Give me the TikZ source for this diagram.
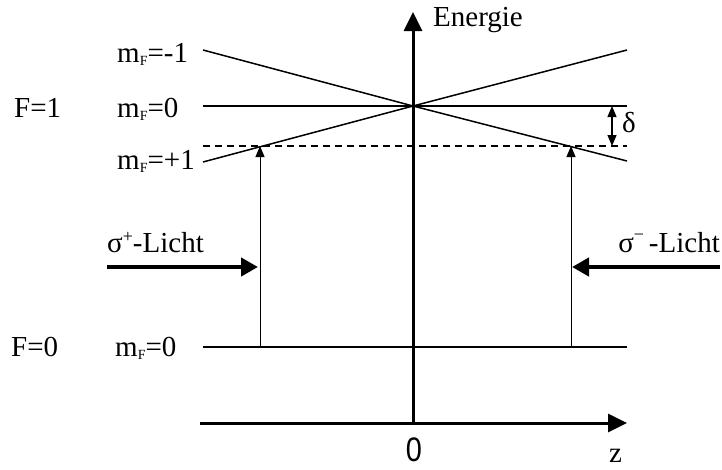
\documentclass[tikz,border=0pt]{standalone}
\usepackage{fontspec}
\setmainfont{Liberation Serif}
\newfontfamily\zerofont{Liberation Sans}
\usetikzlibrary{arrows.meta}
\newcommand{\mFsub}{m\raisebox{-3pt}{\fontsize{14}{14}\selectfont F}}
\begin{document}
\begin{tikzpicture}[x=1pt,y=-1pt,
  lbl/.style={inner sep=0pt,font=\fontsize{29}{29}\selectfont},
  axis/.style={line width=3pt,-{Triangle[length=19pt,width=18pt]}},
  level/.style={line width=1.5pt},
  light/.style={line width=4.5pt,-{Triangle[length=17pt,width=18pt]}},
  trans/.style={line width=1pt,-{Triangle[length=11pt,width=9pt]}},
  detun/.style={line width=1.2pt,{Triangle[length=11pt,width=9pt]}-{Triangle[length=11pt,width=9pt]}}]
\useasboundingbox (0,0) rectangle (722,469);
% coordinates
\coordinate (vb) at (413,423);
\coordinate (vt) at (413,12);
\coordinate (hl) at (200,423);
\coordinate (hr) at (627,423);
\coordinate (c) at (413,106);
\coordinate (m1l) at (203,50);
\coordinate (m1r) at (627,50);
\coordinate (p1l) at (203,162);
\coordinate (p1r) at (627,161);
\coordinate (m0l) at (203,106);
\coordinate (m0r) at (627,106);
\coordinate (dl) at (203,146);
\coordinate (dr) at (627,146);
\coordinate (gl) at (203,347);
\coordinate (gr) at (627,347);
\coordinate (t1b) at (260,347);
\coordinate (t1t) at (260,146);
\coordinate (t2b) at (571,347);
\coordinate (t2t) at (571,146);
\coordinate (sp1) at (107,267);
\coordinate (sp2) at (258,267);
\coordinate (sm1) at (720,267);
\coordinate (sm2) at (572,267);
\coordinate (d1) at (612,106);
\coordinate (d2) at (612,146);
% axes
\draw[axis] (vb) -- (vt);
\draw[axis] (hl) -- (hr);
% levels
\draw[level] (m1l) -- (c) -- (m1r);
\draw[level] (p1l) -- (c) -- (p1r);
\draw[level] (m0l) -- (m0r);
\draw[level,dash pattern=on 7pt off 5pt] (dl) -- (dr);
\draw[level] (gl) -- (gr);
% transitions
\draw[trans] (t1b) -- (t1t);
\draw[trans] (t2b) -- (t2t);
\draw[detun] (d1) -- (d2);
% light
\draw[light] (sp1) -- (sp2);
\draw[light] (sm1) -- (sm2);
% labels
\node[lbl,anchor=base west] (energie) at (433,26) {Energie};
\node[lbl,anchor=base west] (f1) at (14,117) {F=1};
\node[lbl,anchor=base west] (f0) at (11,356) {F=0};
\node[lbl,anchor=base west] (lm1) at (117,62) {\mFsub=-1};
\node[lbl,anchor=base west] (lm0) at (117,117) {\mFsub=0};
\node[lbl,anchor=base west] (lp1) at (117,169) {\mFsub=+1};
\node[lbl,anchor=base west] (lg0) at (115,356) {\mFsub=0};
\node[lbl,anchor=base west] (sigp) at (107,252) {σ\raisebox{10pt}{\fontsize{18}{18}\selectfont +}-Licht};
\node[lbl,anchor=base east] (sigm) at (720,252) {σ\raisebox{12pt}{\fontsize{18}{18}\selectfont −}\,-Licht};
\node[lbl,anchor=base west] (delta) at (622,132) {δ};
\node[inner sep=0pt,font=\zerofont\fontsize{34}{34}\selectfont,xscale=0.85] (zero) at (414,450) {0};
\node[lbl,anchor=base west] (z) at (609,462) {z};
\end{tikzpicture}
\end{document}
